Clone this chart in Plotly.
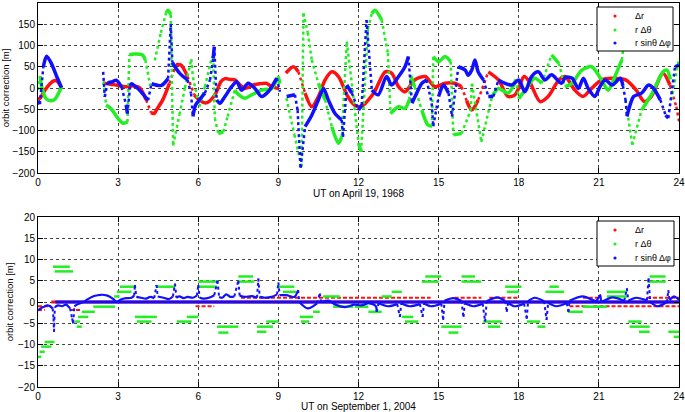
import plotly.graph_objects as go

# ---------------- data: top panel (UT on April 19, 1968) ----------------
# (hour, metres); None marks a gap in the data
top_dr = [(0,-28),(0.1,-22),(0.25,-6),(0.45,10),(0.6,17),(0.72,16),(0.88,0), None,
 (2.43,12),(2.7,9),(2.93,7),(3.3,3),(3.55,5),(3.8,1),(4.05,-28),(4.23,-58),(4.35,-60),(4.45,-50),
 (4.67,-28),(4.92,11),(5.17,55),(5.35,54),(5.6,27),(5.85,-16),(6.04,-28),(6.25,-35),(6.4,-32),
 (6.66,-12),(6.85,15),(7.0,22),(7.2,20),(7.37,19),(7.55,8),(7.75,-1),(8.06,7),(8.3,10),(8.56,11),
 (8.75,3),(9.0,-1), None,
 (9.28,35),(9.56,50),(9.75,38),(10.0,-12),(10.25,-44),(10.5,-20),(10.75,19),(11.0,38),(11.25,27),
 (11.6,-20),(11.85,-40),(12.1,-44),(12.37,-28),(12.6,-9),(13.0,38),(13.24,35),(13.5,3),(13.74,-9),
 (14.1,19),(14.5,27),(14.86,3),(15.24,11),(15.6,11),(15.86,3),(16.05,-30),(16.24,-52),(16.48,-28),
 (16.86,38),(17.24,19),(17.6,-20),(17.86,-16),(18.0,0),(18.2,27),(18.4,15),(18.8,-32),(19.1,-20),
 (19.5,19),(19.73,27),(20.1,-5),(20.4,-20),(20.73,-1),(21.1,19),(21.5,23),(22.0,19),(22.4,-5),
 (22.7,-32),(22.96,-20),(23.4,35),(23.66,7),(23.9,-44),(24,-78)]

top_rdth = [(0,-5),(0.08,28),(0.15,0),(0.3,-25),(0.5,-30),(0.65,-25),(0.8,-8),(0.88,3), None,
 (2.45,15),(2.55,-40),(2.75,-50),(3.0,-72),(3.2,-83),(3.35,-80),(3.42,78),(3.6,80),(3.9,78),
 (4.02,66),(4.2,5), None,
 (4.37,65),(4.6,130),(4.8,178),(4.87,183),(4.97,172),(5.06,-135),(5.3,-62),(5.5,0),(5.74,68),
 (5.8,25),(6.04,-44),(6.25,3),(6.5,70),(6.56,72),(6.62,-71),(6.75,-107),(6.94,-103),(7.1,-67),
 (7.37,-5),(7.5,-15),(7.75,-24),(8.0,-16),(8.37,-5),(8.75,-1),(9.0,25),(9.05,10), None,
 (9.3,-24),(9.6,-110),(9.87,-185),(9.94,176),(10.1,130),(10.25,66),(10.5,11),(10.75,-28),
 (11.0,-91),(11.25,-130),(11.37,-115),(11.56,109),(11.75,11),(12.0,-130),(12.1,-150),(12.35,140),
 (12.5,175),(12.62,183),(12.87,160),(13.1,82),(13.2,-60),(13.5,-44),(13.74,-48),(13.9,-28),
 (13.95,30),(14.1,3),(14.37,-52),(14.6,-87),(14.75,-90),(14.8,74),(15.0,62),(15.24,74),(15.45,62),
 (15.55,-110),(15.86,-107),(16.2,-52),(16.25,10),(16.6,-127),(17.0,-20),(17.24,-1),(17.6,-12),
 (17.9,20),(18.0,-25),(18.3,0),(18.6,23),(18.86,11),(19.23,78),(19.5,58),(19.73,3),(20.0,11),
 (20.36,42),(20.73,50),(21.1,19),(21.35,-5),(21.6,27),(21.86,66),(22.05,160), None,
 (22.0,-28),(22.25,-134),(22.6,-52),(23.0,-12),(23.4,38),(23.55,42),(23.68,20), None,
 (23.72,-28),(24,70)]

top_rsdph = [(0,-30),(0.07,-38),(0.2,50),(0.32,75),(0.5,58),(0.7,27),(0.88,1), None,
 (2.44,38),(2.5,-21),(2.6,12),(2.75,14),(2.94,18),(3.13,2),(3.3,-40),(3.35,-60),(3.45,5),(3.5,10),
 (3.75,-2),(4.12,-29),(4.25,10),(4.62,6),(4.87,22),(4.97,150),(5.03,60),(5.3,35),(5.6,19),
 (5.73,-13),(5.8,-67),(5.9,-40),(6.04,-28),(6.25,-12),(6.44,19),(6.56,70),(6.6,97),(6.69,-28),
 (6.81,-36),(7.0,-20),(7.25,3),(7.44,15),(7.62,-5),(7.87,11),(8.12,-1),(8.37,-20),(8.62,-9),
 (8.94,23),(9.06,-9), None,
 (9.31,-20),(9.62,-16),(9.72,-52),(9.83,-188),(10.0,-91),(10.25,-64),(10.5,-28),(10.69,-1),
 (10.87,-28),(11.12,-60),(11.37,-75),(11.42,-115),(11.56,7),(11.75,-12),(12.0,-52),(12.12,-40),
 (12.3,160),(12.5,-5),(12.74,-16),(13.05,27),(13.24,7),(13.5,27),(13.74,50),(13.87,74),(14.0,-36),
 (14.12,-20),(14.37,11),(14.55,19),(14.74,-36),(14.8,-90),(15.0,-20),(15.18,7),(15.37,-12),
 (15.5,-67),(15.74,50),(16.0,42),(16.1,30),(16.24,42),(16.36,66),(16.48,38),(16.68,19),(16.86,-20),
 (17.05,-20),(17.24,19),(17.49,11),(17.74,7),(18.0,19),(18.23,-9),(18.48,27),(18.73,38),(18.98,19),
 (19.23,31),(19.6,11),(19.75,25),(20.0,23),(20.23,-1),(20.42,23),(20.6,-1),(20.85,-20),(21.04,3),
 (21.23,19),(21.5,7),(21.8,23),(21.9,5),(22.0,-28),(22.05,-67),(22.15,-44),(22.3,-20),(22.6,-12),
 (22.86,7),(23.05,-1),(23.3,-28),(23.5,-64),(23.6,-71),(23.85,50),(24.0,54)]

# ---------------- data: bottom panel (UT on September 1, 2004) ----------------
# flat runs: (start hour, end hour, metres)
bot_dr_base = [(0.5,24.0,0.0)]
bot_dr_runs = [(0.0,0.5,-1.0),(0.0,0.25,-1.9),(1.2,1.6,-1.9),(5.9,6.6,-1.0),
 (7.6,14.7,1.0),(15.6,16.6,1.0),(16.9,18.0,1.0),(19.9,20.6,-1.0),(20.4,21.0,1.0),
 (20.8,24.0,-1.0),(22.8,24.0,1.0)]

bot_rdth_runs = [
 (0.00,0.12,-12.9),(0.06,0.25,-11.7),(0.12,0.50,-10.5),(0.25,0.62,-9.4),
 (0.56,1.19,8.3),(0.62,1.31,7.2),
 (1.39,1.57,-4.6),(1.45,1.64,-5.8),(1.50,1.88,-3.5),(1.64,2.13,-2.3),(2.07,2.88,-1.1),
 (2.85,3.05,1.3),(2.95,3.50,2.4),(3.07,3.63,3.6),
 (3.63,4.00,-3.5),(3.70,4.25,-4.6),(3.94,4.45,-3.5),
 (4.44,5.13,3.6),
 (5.20,5.75,-4.6),(5.57,6.00,-3.5),
 (6.00,6.70,3.6),(6.00,6.75,4.8),
 (6.70,7.50,-5.8),(6.75,7.13,-7.2),
 (7.50,8.05,6.0),(7.50,8.10,4.8),
 (8.20,8.55,-7.0),(8.20,8.80,-5.8),(8.55,9.00,-4.6),
 (9.00,9.60,3.6),(9.17,9.67,2.4),
 (9.80,10.30,-3.5),(9.85,10.15,-4.6),(10.30,10.55,-2.3),
 (10.67,11.30,1.3),
 (11.05,11.80,-1.1),(11.87,12.37,-1.1),
 (12.37,12.87,-2.3),
 (12.87,13.24,1.3),(13.24,13.62,2.4),
 (13.62,14.05,-3.5),(13.74,14.24,-4.6),
 (14.37,15.00,4.8),(14.50,15.10,6.0),
 (15.10,15.86,-5.8),(15.37,15.74,-7.2),
 (15.86,16.36,6.0),(15.86,16.60,4.8),
 (16.67,17.36,-4.6),(16.85,17.30,-5.8),
 (17.49,18.10,3.6),(17.55,18.00,2.4),
 (18.30,18.80,-4.6),(18.70,19.00,-5.8),
 (19.00,19.70,2.4),(19.15,19.50,3.6),
 (19.85,20.40,-2.3),(20.40,21.30,-1.1),
 (21.30,22.05,2.4),(21.30,22.05,1.3),
 (22.10,22.60,-4.6),(22.15,22.90,-5.8),(22.50,22.90,-7.0),
 (22.90,23.50,6.0),(22.85,23.50,4.8),
 (23.60,24.00,-7.0),(23.80,24.00,-8.2)]

bot_rsdph_runs = [(0.65,24.0,0.0)]
bot_rsdph = [(0,-2.0),(0.1,-1.5),(0.2,-1.2),(0.35,-0.8),(0.45,-1.0),(0.55,-1.5),(0.58,-3.9),(0.6,-7.0),
 (0.63,-1.2),(0.75,-0.8),(0.9,-1.0),(1.05,-0.6),(1.2,-1.5),(1.28,-3.9),(1.32,-5.0),(1.36,-1.0),
 (1.5,-0.5),(1.7,0),(1.9,0.8),(2.1,1.4),(2.35,1.7),(2.6,1.5),(2.8,0.8),(2.95,0),(3.1,0.6),(3.3,0.9),
 (3.5,1.0),(3.6,1.5),(3.63,4.0),(3.68,1.2),(3.85,1.0),(4.05,0.8),(4.2,1.2),(4.35,0.9),(4.44,4.0),
 (4.48,1.3),(4.7,1.0),(4.9,0.7),(5.05,1.3),(5.13,4.3),(5.18,1.0),(5.3,1.3),(5.45,0.9),(5.6,1.2),
 (5.8,1.0),(5.95,1.5),(6.0,4.0),(6.05,1.0),(6.2,0.8),(6.4,1.0),(6.6,1.6),(6.72,5.0),(6.78,1.2),
 (6.9,1.0),(7.05,1.8),(7.2,1.2),(7.35,1.3),(7.5,5.0),(7.55,1.5),(7.75,1.2),(8.0,1.4),(8.2,1.0),
 (8.25,5.5),(8.3,1.2),(8.5,1.0),(8.75,1.2),(8.95,1.8),(9.0,4.6),(9.05,1.6),(9.3,1.6),(9.6,1.2),
 (9.74,2.8),(9.78,0),(10.1,-1.5),(10.45,-0.3),(10.55,2.0),(10.6,0),(10.9,0.3),(11.1,-0.5),
 (11.5,-1.2),(11.85,-0.6),(12.1,-0.8),(12.4,-0.3),(12.65,-1.0),(12.68,-2.3),(12.75,-0.3),
 (13.1,-1.0),(13.45,-0.5),(13.55,-3.5),(13.6,-0.3),(13.9,-1.0),(14.3,-0.5),(14.4,-3.5),
 (14.45,-0.3),(14.7,-1.0),(15.1,-0.4),(15.17,-4.2),(15.22,0.3),(15.55,0.9),(15.85,0.3),
 (15.93,-3.5),(15.98,-0.3),(16.3,-1.0),(16.65,-0.4),(16.74,-4.6),(16.8,0.2),(17.2,1.1),(17.5,0.2),
 (17.55,-2.3),(17.6,-0.2),(17.85,-1.0),(18.2,-0.4),(18.3,-3.9),(18.35,0.2),(18.6,1.0),(18.95,0.2),
 (19.04,-4.2),(19.1,-0.2),(19.4,-1.0),(19.8,-0.3),(19.86,-2.3),(19.9,0.3),(20.4,1.3),(20.9,0.3),
 (21.05,1.6),(21.1,0.2),(21.5,1.1),(21.95,0.3),(22.05,3.2),(22.1,0.3),(22.4,1.0),(22.8,0.4),
 (22.86,5.6),(22.92,0),(23.2,-1.0),(23.55,0),(23.6,2.8),(23.65,0.4),(23.8,1.3),(24,0.5)]

names = ["Δr", "r Δθ", "r sinθ Δφ"]
colors = ["#ff1010", "#22ee22", "#1010ff"]
x_ticks = [0, 3, 6, 9, 12, 15, 18, 21, 24]
top_yticks = [-200, -150, -100, -50, 0, 50, 100, 150, 200]
bot_yticks = [-20, -15, -10, -5, 0, 5, 10, 15, 20]

FONT = "Liberation Sans, Arial, Helvetica, sans-serif"

W, H = 685, 412
ML, MR, MT, MB = 38, 6, 3, 25
PW, PH = W - ML - MR, H - MT - MB


def split(pairs, xpx, ypx, thr):
    """Separate slow parts (solid) from fast jumps (dotted)."""
    sx, sy, dx, dy = [], [], [], []
    prev = None
    for p in pairs:
        if p is None:
            sx.append(None); sy.append(None); prev = None
            continue
        if prev is not None:
            ddx = abs(p[0] - prev[0]) * xpx
            ddy = abs(p[1] - prev[1]) * ypx
            if ddy > thr and ddy > 2.5 * ddx:
                dx += [prev[0], p[0], None]; dy += [prev[1], p[1], None]
                sx.append(None); sy.append(None)
        sx.append(p[0]); sy.append(p[1])
        prev = p
    return sx, sy, dx, dy


def runs_xy(runs):
    xs, ys = [], []
    for a, b, v in runs:
        xs += [a, b, None]; ys += [v, v, None]
    return xs, ys


def px2paper(x, y):
    return (x - ML) / PW, (H - MB - y) / PH


fig = go.Figure()
XPX = PW / 24.0

# top panel
for pairs, c in zip([top_dr, top_rdth, top_rsdph], colors):
    sx, sy, dx, dy = split(pairs, XPX, 170 / 400.0, 12)
    fig.add_trace(go.Scatter(x=sx, y=sy, mode="lines", line=dict(color=c, width=3.5, shape="spline", smoothing=0.8),
                             showlegend=False, hoverinfo="skip", xaxis="x", yaxis="y"))
    fig.add_trace(go.Scatter(x=dx, y=dy, mode="lines", line=dict(color=c, width=2.5, dash="dot"),
                             showlegend=False, hoverinfo="skip", xaxis="x", yaxis="y"))

# bottom panel
rx, ry = runs_xy(bot_dr_base)
fig.add_trace(go.Scatter(x=rx, y=ry, mode="lines", line=dict(color=colors[0], width=3),
                         showlegend=False, hoverinfo="skip", xaxis="x2", yaxis="y2"))
rx, ry = runs_xy(bot_dr_runs)
fig.add_trace(go.Scatter(x=rx, y=ry, mode="lines", line=dict(color=colors[0], width=2, dash="4px,2px"),
                         showlegend=False, hoverinfo="skip", xaxis="x2", yaxis="y2"))
gx, gy = runs_xy(bot_rdth_runs)
fig.add_trace(go.Scatter(x=gx, y=gy, mode="lines", line=dict(color=colors[1], width=2.5),
                         showlegend=False, hoverinfo="skip", xaxis="x2", yaxis="y2"))
bx, by = runs_xy(bot_rsdph_runs)
fig.add_trace(go.Scatter(x=bx, y=by, mode="lines", line=dict(color=colors[2], width=3),
                         showlegend=False, hoverinfo="skip", xaxis="x2", yaxis="y2"))
sx, sy, dx, dy = split(bot_rsdph, XPX, 170 / 40.0, 6)
fig.add_trace(go.Scatter(x=sx, y=sy, mode="lines", line=dict(color=colors[2], width=2.2, shape="spline", smoothing=0.8),
                         showlegend=False, hoverinfo="skip", xaxis="x2", yaxis="y2"))
fig.add_trace(go.Scatter(x=dx, y=dy, mode="lines", line=dict(color=colors[2], width=2, dash="dot"),
                         showlegend=False, hoverinfo="skip", xaxis="x2", yaxis="y2"))

# hand-built legends (box, dots, labels) in paper coordinates
shapes, annos = [], []
for (bx0, by0, bx1, by1, rows) in [(597, 7, 673, 51, (16, 30, 43)), (597, 221, 674, 266, (230, 244, 258))]:
    x0, y0 = px2paper(bx0, by1)
    x1, y1 = px2paper(bx1, by0)
    shapes.append(dict(type="rect", xref="paper", yref="paper", x0=x0, y0=y0, x1=x1, y1=y1,
                       line=dict(color="black", width=1), fillcolor="white", layer="above"))
    for ry_, n, c in zip(rows, names, colors):
        cx, cy = px2paper(615, ry_)
        dxp, dyp = 1.6 / PW, 1.6 / PH
        shapes.append(dict(type="circle", xref="paper", yref="paper", x0=cx - dxp, x1=cx + dxp,
                           y0=cy - dyp, y1=cy + dyp, fillcolor=c, line=dict(width=0), layer="above"))
        tx, ty = px2paper(633, ry_)
        annos.append(dict(text=n, xref="paper", yref="paper", x=tx, y=ty, xanchor="left", yanchor="middle",
                          showarrow=False, font=dict(family=FONT, size=9, color="black")))

axis_common = dict(showline=True, linecolor="black", linewidth=1, mirror="ticks", ticks="inside",
                   ticklen=5, tickcolor="black", showgrid=True, gridcolor="#444444", griddash="dot",
                   gridwidth=1, zeroline=False, tickfont=dict(family=FONT, size=10, color="black"))

fig.update_layout(
    width=W, height=H,
    margin=dict(l=ML, r=MR, t=MT, b=MB, autoexpand=False),
    paper_bgcolor="white", plot_bgcolor="white",
    font=dict(family=FONT, color="black"),
    showlegend=False,
    xaxis=dict(axis_common, range=[0, 24], tickvals=x_ticks, anchor="y", domain=[0, 1],
               title=dict(text="UT on April 19, 1968", font=dict(size=10), standoff=1)),
    yaxis=dict(axis_common, range=[-200, 200], tickvals=top_yticks, domain=[(H - MB - 173) / PH, 1], anchor="x",
               title=dict(text="orbit correction [m]", font=dict(size=9.5), standoff=2)),
    xaxis2=dict(axis_common, range=[0, 24], tickvals=x_ticks, anchor="y2", domain=[0, 1],
                title=dict(text="UT on September 1, 2004", font=dict(size=10), standoff=1)),
    yaxis2=dict(axis_common, range=[-20, 20], tickvals=bot_yticks, domain=[0, (H - MB - 217) / PH], anchor="x2",
                title=dict(text="orbit correction [m]", font=dict(size=9.5), standoff=2)),
    shapes=shapes, annotations=annos,
    hovermode=False,
)

fig.write_html("out.html", config={"displayModeBar": False, "staticPlot": True},
               post_script="document.body.style.margin='0';document.body.style.overflow='hidden';")
